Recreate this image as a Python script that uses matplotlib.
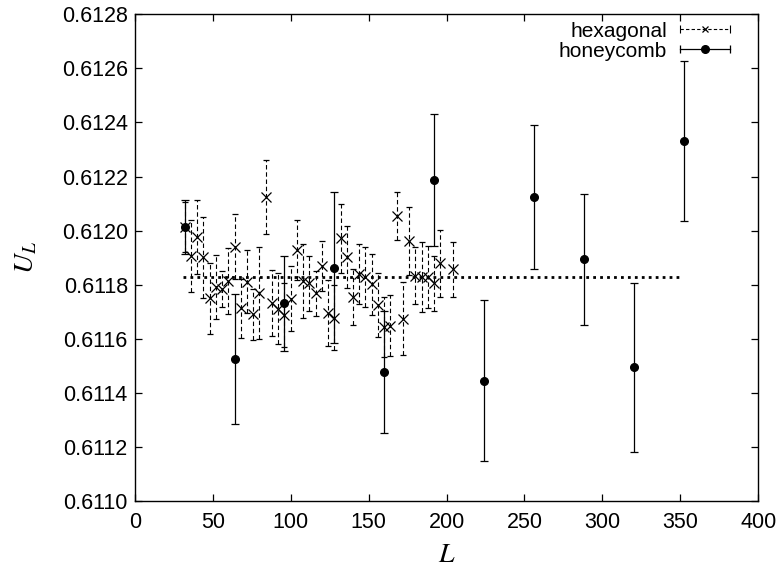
import matplotlib
matplotlib.use('Agg')
import matplotlib.pyplot as plt
from matplotlib.lines import Line2D
from matplotlib.legend_handler import HandlerLine2D, HandlerTuple
from matplotlib.ticker import FormatStrFormatter, MultipleLocator

plt.rcParams['font.family'] = ['Liberation Sans', 'DejaVu Sans']
plt.rcParams['mathtext.fontset'] = 'stix'

# hexagonal lattice
hex_L = [32, 36, 40, 44, 48, 52, 56, 60, 64, 68, 72, 76, 80, 84, 88, 92, 96,
         100, 104, 108, 112, 116, 120, 124, 128, 132, 136, 140, 144, 148, 152,
         156, 160, 164, 168, 172, 176, 180, 184, 188, 192, 196, 204]
hex_U = [0.612014, 0.611906, 0.611977, 0.611901, 0.611750, 0.611792, 0.611785,
         0.611813, 0.611940, 0.611713, 0.611811, 0.611690, 0.611768, 0.612125,
         0.611733, 0.611711, 0.611688, 0.611748, 0.611928, 0.611815, 0.611805,
         0.611768, 0.611869, 0.611694, 0.611678, 0.611971, 0.611903, 0.611755,
         0.611839, 0.611829, 0.611801, 0.611725, 0.611644, 0.611648, 0.612054,
         0.611675, 0.611961, 0.611833, 0.611829, 0.611828, 0.611805, 0.611879,
         0.611857]
hex_err = [0.000093, 0.000134, 0.000136, 0.000149, 0.000132, 0.000117, 0.000067,
           0.000121, 0.000120, 0.000110, 0.000117, 0.000096, 0.000170, 0.000136,
           0.000123, 0.000131, 0.000120, 0.000120, 0.000111, 0.000137, 0.000103,
           0.000083, 0.000094, 0.000122, 0.000120, 0.000129, 0.000115, 0.000105,
           0.000112, 0.000112, 0.000114, 0.000118, 0.000110, 0.000113, 0.000090,
           0.000136, 0.000125, 0.000105, 0.000128, 0.000115, 0.000101, 0.000125,
           0.000102]

# honeycomb lattice
hc_L = [32, 64, 96, 128, 160, 192, 224, 256, 288, 320, 352]
hc_U = [0.612012, 0.611524, 0.611731, 0.611863, 0.611476, 0.612187,
        0.611445, 0.612124, 0.611894, 0.611494, 0.612331]
hc_err = [0.000100, 0.000240, 0.000175, 0.000280, 0.000226, 0.000243,
          0.000297, 0.000265, 0.000242, 0.000312, 0.000295]

# fitted constant
fit_L = [31, 351]
fit_U = [0.611828, 0.611828]

fig = plt.figure(figsize=(7.81, 5.72), dpi=100)
ax = fig.add_axes([0.1725, 0.124, 0.7985, 0.851])

eb = ax.errorbar(hex_L, hex_U, yerr=hex_err, fmt='x', color='black',
                 ms=7, mew=0.9, elinewidth=0.8, capsize=2.5, capthick=0.8)
eb[2][0].set_linestyle((0, (4, 2.5)))

ax.errorbar(hc_L, hc_U, yerr=hc_err, fmt='o', color='black',
            ms=5.5, elinewidth=0.9, capsize=3, capthick=0.9)

ax.plot(fit_L, fit_U, color='black', lw=2, linestyle=(0, (1, 1.5)))

ax.set_xlim(0, 400)
ax.set_ylim(0.6110, 0.6128)
ax.xaxis.set_major_locator(MultipleLocator(50))
ax.yaxis.set_major_locator(MultipleLocator(0.0002))
ax.yaxis.set_major_formatter(FormatStrFormatter('%.4f'))
ax.tick_params(direction='in', length=5, width=0.9, top=True, right=True,
               labelsize=15.5)
ax.tick_params(axis='y', pad=5)
ax.tick_params(axis='x', pad=8)
for s in ax.spines.values():
    s.set_linewidth(1.0)

ax.set_xlabel('$L$', fontsize=20, labelpad=6)
ax.set_ylabel('$U_L$', fontsize=20, labelpad=16)

# gnuplot style legend samples
hex_caps = Line2D([], [], color='black', lw=0.8, linestyle=(0, (3, 2)),
                  marker='|', ms=6, mew=0.8)
hex_mark = Line2D([], [], color='black', linestyle='none', marker='x', ms=5, mew=0.9)
hc_caps = Line2D([], [], color='black', lw=0.9, marker='|', ms=6, mew=0.9)
hc_mark = Line2D([], [], color='black', linestyle='none', marker='o', ms=5.5)
ax.legend([(hex_caps, hex_mark), (hc_caps, hc_mark)], ['hexagonal', 'honeycomb'],
          handler_map={hex_caps: HandlerLine2D(numpoints=2),
                       hc_caps: HandlerLine2D(numpoints=2),
                       tuple: HandlerTuple(ndivide=1)},
          loc='upper right', bbox_to_anchor=(0.964, 0.985), frameon=False,
          markerfirst=False, handlelength=3.0, handletextpad=0.3,
          labelspacing=0.05, borderpad=0, borderaxespad=0, fontsize=15)

fig.savefig('out.png', dpi=100)
